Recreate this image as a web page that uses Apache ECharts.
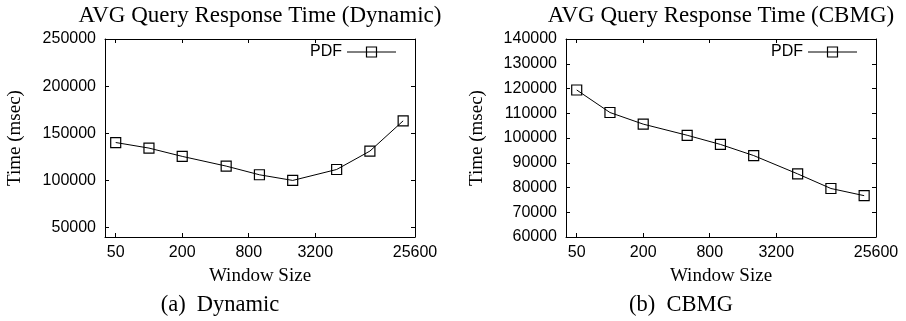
<!DOCTYPE html>
<html>
<head>
<meta charset="utf-8">
<script src="https://cdn.jsdelivr.net/npm/echarts@6/dist/echarts.min.js"></script>
<style>
html,body{margin:0;padding:0;background:#fff;}
#c{width:906px;height:321px;}
</style>
</head>
<body>
<div id="c"></div>
<script>
// ---- data ----
const windowSizes = [50, 100, 200, 500, 1000, 2000, 5000, 10000, 20000];
const dynamicTimes = [140200, 134300, 125500, 115200, 106000, 100000, 111600, 131100, 163200];
const cbmgTimes = [119400, 110300, 105600, 101100, 97400, 92900, 85500, 79600, 76700];
const xTickLabels = [50, 200, 800, 3200, 25600];
const dynamicYTicks = [50000, 100000, 150000, 200000, 250000];
const cbmgYTicks = [60000, 70000, 80000, 90000, 100000, 110000, 120000, 130000, 140000];
const seriesName = 'PDF';
const titles = ['AVG Query Response Time (Dynamic)', 'AVG Query Response Time (CBMG)'];
const captions = ['(a)  Dynamic', '(b)  CBMG'];
const xName = 'Window Size';
const yName = 'Time (msec)';

const SANS = '"Liberation Sans", Arial, sans-serif';
const SERIF = '"Liberation Serif", "Times New Roman", serif';

const grids = [
  {left: 105, top: 39, width: 310, height: 198},
  {left: 566, top: 39, width: 310, height: 198}
];

const plain = v => String(Math.round(v));

function xAxisFor(g, pos, labels) {
  return {
    type: 'log', logBase: 2, gridIndex: g, position: pos,
    min: 40, max: 25600,
    axisLine: {show: true, lineStyle: {color: '#000', width: 1}},
    axisTick: {show: true, inside: true, length: 4, customValues: xTickLabels, lineStyle: {color: '#000'}},
    axisLabel: {show: labels, customValues: xTickLabels, formatter: plain, color: '#000', fontFamily: SANS, fontSize: 16, margin: 8},
    splitLine: {show: false}, minorTick: {show: false}
  };
}
function yAxisFor(g, pos, labels, min, max, ticks) {
  return {
    type: 'value', gridIndex: g, position: pos, min: min, max: max,
    axisLine: {show: true, lineStyle: {color: '#000', width: 1}},
    axisTick: {show: true, inside: true, length: 4, customValues: ticks, lineStyle: {color: '#000'}},
    axisLabel: {show: labels, customValues: ticks, formatter: plain, color: '#000', fontFamily: SANS, fontSize: 16, margin: 9},
    splitLine: {show: false}
  };
}

function makeSeries(idx, vals) {
  return {
    name: seriesName, type: 'line', xAxisIndex: idx * 2, yAxisIndex: idx * 2,
    data: windowSizes.map((w, i) => [w, vals[i]]),
    symbol: 'rect', symbolSize: 10,
    lineStyle: {color: '#000', width: 1},
    itemStyle: {color: 'rgba(0,0,0,0)', borderColor: '#000', borderWidth: 1.2},
    emphasis: {disabled: true},
    animation: false
  };
}

const graphics = [];
[0, 1].forEach(i => {
  const g = grids[i];
  const cx = g.left + g.width / 2;
  graphics.push({type: 'text', x: cx, y: 16, style: {text: titles[i], fill: '#000', font: '23px ' + SERIF, textAlign: 'center', textVerticalAlign: 'middle'}});
  graphics.push({type: 'text', x: cx, y: 276, style: {text: xName, fill: '#000', font: '19px ' + SERIF, textAlign: 'center', textVerticalAlign: 'middle'}});
  graphics.push({type: 'text', x: [220, 681][i], y: 305, style: {text: captions[i], fill: '#000', font: '22.5px ' + SERIF, textAlign: 'center', textVerticalAlign: 'middle'}});
  graphics.push({type: 'text', x: [15.5, 477][i], y: 138, rotation: Math.PI / 2, style: {text: yName, fill: '#000', font: '19px ' + SERIF, textAlign: 'center', textVerticalAlign: 'middle'}});
});

const legendBase = {
  data: [seriesName], align: 'right', itemWidth: 49, itemHeight: 12.5, itemGap: 8,
  itemStyle: {color: 'rgba(0,0,0,0)', borderColor: '#000', borderWidth: 1.2},
  lineStyle: {color: '#000', width: 1},
  textStyle: {fontFamily: SANS, fontSize: 16, color: '#000'}, selectedMode: false
};

const chart = echarts.init(document.getElementById('c'), null, {renderer: 'canvas'});
chart.setOption({
  animation: false,
  backgroundColor: '#fff',
  grid: grids,
  xAxis: [
    xAxisFor(0, 'bottom', true), xAxisFor(0, 'top', false),
    xAxisFor(1, 'bottom', true), xAxisFor(1, 'top', false)
  ],
  yAxis: [
    yAxisFor(0, 'left', true, 40000, 250000, dynamicYTicks), yAxisFor(0, 'right', false, 40000, 250000, dynamicYTicks),
    yAxisFor(1, 'left', true, 60000, 140000, cbmgYTicks), yAxisFor(1, 'right', false, 60000, 140000, cbmgYTicks)
  ],
  legend: [
    Object.assign({left: 305, top: 39}, legendBase),
    Object.assign({left: 766, top: 39}, legendBase)
  ],
  series: [makeSeries(0, dynamicTimes), makeSeries(1, cbmgTimes)],
  graphic: graphics
});
</script>
</body>
</html>
